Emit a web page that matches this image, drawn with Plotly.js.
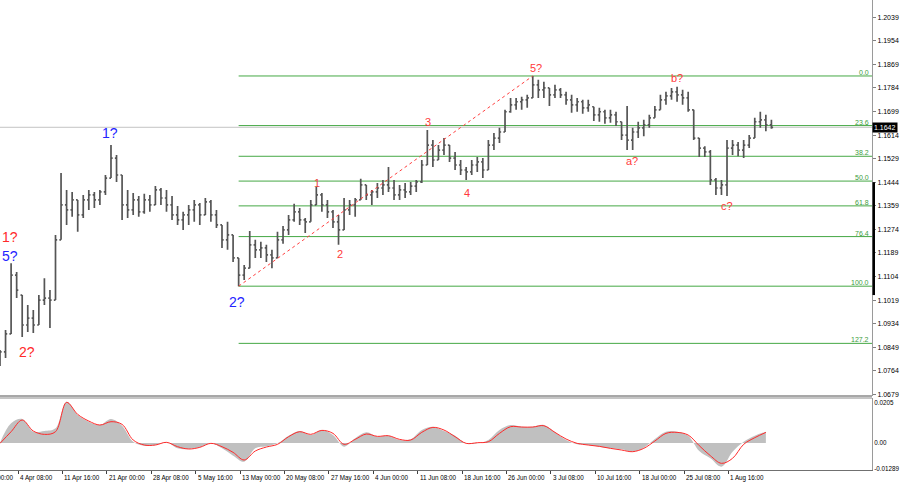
<!DOCTYPE html>
<html><head><meta charset="utf-8">
<script src="https://cdn.plot.ly/plotly-3.0.1.min.js"></script>
<style>html,body{margin:0;padding:0;background:#fff;}#chart{width:900px;height:485px;}</style>
</head><body><div id="chart"></div>
<script>
// ---- price bars (each drawn bar groups 4 H4 bars) ----
const barStep = 4;
const barOpen = [1.0796,1.0832,1.0897,1.1109,1.1037,1.0929,1.0954,1.0929,1.1019,1.1026,
1.1019,1.1236,1.1362,1.1344,1.1380,1.1326,1.1380,1.1398,1.1380,1.1409,
1.1459,1.1531,1.1470,1.1362,1.1344,1.1380,1.1337,1.1380,1.1362,1.1416,
1.1387,1.1362,1.1326,1.1308,1.1326,1.1344,1.1362,1.1326,1.1373,1.1326,
1.1290,1.1236,1.1254,1.1171,1.1109,1.1134,1.1218,1.1200,1.1207,1.1182,
1.1171,1.1236,1.1272,1.1308,1.1337,1.1308,1.1301,1.1362,1.1398,1.1362,
1.1337,1.1301,1.1272,1.1344,1.1362,1.1380,1.1434,1.1398,1.1409,1.1423,
1.1434,1.1423,1.1398,1.1416,1.1409,1.1430,1.1445,1.1506,1.1578,1.1524,
1.1560,1.1578,1.1531,1.1506,1.1488,1.1481,1.1506,1.1517,1.1488,1.1578,
1.1603,1.1625,1.1698,1.1723,1.1734,1.1741,1.1748,1.1795,1.1777,1.1784,
1.1759,1.1777,1.1759,1.1741,1.1723,1.1734,1.1712,1.1716,1.1687,1.1698,
1.1676,1.1687,1.1662,1.1614,1.1596,1.1625,1.1640,1.1651,1.1676,1.1705,
1.1741,1.1755,1.1770,1.1759,1.1748,1.1705,1.1603,1.1567,1.1553,1.1452,
1.1423,1.1434,1.1567,1.1578,1.1560,1.1578,1.1603,1.1662,1.1669,1.1651];
const barHigh = [1.0839,1.0911,1.1152,1.1120,1.1037,1.1001,1.0983,1.1037,1.1098,1.1055,
1.1254,1.1477,1.1416,1.1409,1.1380,1.1398,1.1416,1.1409,1.1416,1.1470,
1.1578,1.1542,1.1470,1.1416,1.1405,1.1394,1.1402,1.1398,1.1430,1.1423,
1.1416,1.1394,1.1358,1.1337,1.1362,1.1380,1.1369,1.1387,1.1380,1.1344,
1.1290,1.1301,1.1254,1.1171,1.1145,1.1268,1.1236,1.1229,1.1218,1.1200,
1.1265,1.1286,1.1326,1.1366,1.1351,1.1315,1.1380,1.1427,1.1405,1.1380,
1.1344,1.1326,1.1387,1.1380,1.1387,1.1456,1.1434,1.1416,1.1441,1.1452,
1.1499,1.1452,1.1434,1.1441,1.1445,1.1452,1.1524,1.1632,1.1596,1.1578,
1.1603,1.1578,1.1553,1.1524,1.1499,1.1524,1.1535,1.1531,1.1596,1.1621,
1.1640,1.1705,1.1748,1.1748,1.1752,1.1759,1.1827,1.1813,1.1806,1.1784,
1.1795,1.1784,1.1770,1.1759,1.1748,1.1741,1.1741,1.1716,1.1712,1.1705,
1.1705,1.1698,1.1662,1.1719,1.1640,1.1662,1.1669,1.1687,1.1719,1.1759,
1.1770,1.1784,1.1788,1.1777,1.1770,1.1705,1.1603,1.1574,1.1560,1.1459,
1.1452,1.1596,1.1596,1.1589,1.1596,1.1614,1.1676,1.1698,1.1687,1.1669];
const barLow = [1.0781,1.0810,1.0897,1.1026,1.0886,1.0904,1.0900,1.0929,1.1001,1.0918,
1.1019,1.1236,1.1290,1.1319,1.1265,1.1315,1.1344,1.1351,1.1362,1.1398,
1.1459,1.1445,1.1308,1.1315,1.1326,1.1319,1.1330,1.1337,1.1362,1.1362,
1.1337,1.1308,1.1290,1.1272,1.1290,1.1301,1.1290,1.1326,1.1301,1.1279,
1.1207,1.1200,1.1156,1.1069,1.1091,1.1134,1.1171,1.1171,1.1156,1.1134,
1.1171,1.1222,1.1254,1.1301,1.1290,1.1261,1.1301,1.1362,1.1337,1.1315,
1.1279,1.1218,1.1272,1.1326,1.1319,1.1380,1.1380,1.1362,1.1387,1.1398,
1.1409,1.1380,1.1380,1.1387,1.1398,1.1409,1.1441,1.1506,1.1499,1.1524,
1.1542,1.1517,1.1488,1.1470,1.1452,1.1470,1.1481,1.1459,1.1488,1.1560,
1.1585,1.1625,1.1694,1.1705,1.1705,1.1712,1.1748,1.1748,1.1748,1.1719,
1.1748,1.1748,1.1723,1.1694,1.1698,1.1691,1.1698,1.1665,1.1662,1.1655,
1.1658,1.1647,1.1596,1.1560,1.1560,1.1603,1.1610,1.1640,1.1676,1.1705,
1.1723,1.1741,1.1734,1.1723,1.1698,1.1596,1.1535,1.1535,1.1434,1.1398,
1.1398,1.1394,1.1542,1.1538,1.1531,1.1567,1.1603,1.1640,1.1628,1.1637];
const barClose = [1.0832,1.0897,1.1109,1.1055,1.0929,1.0954,1.0929,1.1019,1.1026,1.1019,
1.1236,1.1362,1.1344,1.1380,1.1326,1.1380,1.1398,1.1380,1.1409,1.1459,
1.1531,1.1470,1.1362,1.1344,1.1380,1.1337,1.1380,1.1362,1.1416,1.1387,
1.1362,1.1326,1.1308,1.1326,1.1344,1.1362,1.1326,1.1373,1.1326,1.1290,
1.1236,1.1254,1.1171,1.1109,1.1134,1.1218,1.1200,1.1207,1.1182,1.1171,
1.1236,1.1272,1.1308,1.1337,1.1308,1.1301,1.1362,1.1398,1.1362,1.1337,
1.1301,1.1272,1.1344,1.1362,1.1380,1.1434,1.1398,1.1409,1.1423,1.1434,
1.1423,1.1398,1.1416,1.1409,1.1430,1.1445,1.1506,1.1578,1.1524,1.1560,
1.1578,1.1531,1.1506,1.1488,1.1481,1.1506,1.1517,1.1488,1.1578,1.1603,
1.1625,1.1698,1.1723,1.1734,1.1741,1.1748,1.1795,1.1777,1.1784,1.1759,
1.1777,1.1759,1.1741,1.1723,1.1734,1.1712,1.1723,1.1687,1.1698,1.1676,
1.1687,1.1662,1.1614,1.1596,1.1625,1.1640,1.1651,1.1676,1.1705,1.1741,
1.1755,1.1770,1.1759,1.1748,1.1705,1.1603,1.1567,1.1553,1.1452,1.1423,
1.1434,1.1567,1.1578,1.1560,1.1578,1.1603,1.1662,1.1669,1.1651,1.1642];

// ---- MACD (sampled every 8 H4 bars) ----
const macdStep = 8;
const macdMain = [0.00017,0.00991,0.01209,0.00571,0.00605,0.00739,0.02082,0.01411,0.01075,0.00907,
0.01209,0.00873,0.00067,-0.00134,-0.00101,0.00034,-0.00269,-0.00302,-0.00218,-0.00017,
-0.00269,-0.00638,-0.00940,-0.00269,-0.00168,-0.00017,0.00369,0.00605,0.00403,0.00655,
0.00403,-0.00185,0.00235,0.00537,0.00319,0.00369,0.00151,0.00185,0.00655,0.00823,
0.00605,0.00369,-0.00017,-0.00017,0.00151,0.00655,0.00907,0.00823,0.00823,0.00907,
0.00537,0.00151,-0.00067,-0.00101,-0.00185,-0.00269,-0.00319,-0.00437,-0.00235,0.00202,
0.00571,0.00571,0.00369,-0.00403,-0.00772,-0.01192,-0.00437,0.00067,0.00369,0.00571];
const macdSignal = [-0.00017,0.00571,0.01159,0.00605,0.00437,0.00571,0.02049,0.01444,0.01108,0.00907,
0.01075,0.00940,0.00151,-0.00101,-0.00101,0.00034,-0.00185,-0.00302,-0.00218,-0.00017,
-0.00185,-0.00470,-0.00856,-0.00403,-0.00202,-0.00067,0.00319,0.00571,0.00437,0.00638,
0.00487,-0.00067,0.00185,0.00453,0.00336,0.00369,0.00185,0.00151,0.00537,0.00789,
0.00655,0.00319,-0.00017,0.00017,0.00067,0.00487,0.00823,0.00806,0.00806,0.00873,
0.00537,0.00202,-0.00017,-0.00101,-0.00168,-0.00269,-0.00353,-0.00437,-0.00269,0.00101,
0.00487,0.00537,0.00403,-0.00134,-0.00638,-0.01024,-0.00772,-0.00067,0.00269,0.00537];

// ---- axes / labels ----
const timeLabels = ["28 Mar 00:00","4 Apr 08:00","11 Apr 16:00","21 Apr 00:00","28 Apr 08:00","5 May 16:00",
"13 May 00:00","20 May 08:00","27 May 16:00","4 Jun 00:00","11 Jun 08:00","18 Jun 16:00","26 Jun 00:00",
"3 Jul 08:00","10 Jul 16:00","18 Jul 00:00","25 Jul 08:00","1 Aug 16:00"];
const timeLabelFirstBar = -19, timeLabelEvery = 32;
const priceTicks = [1.2039,1.1954,1.1869,1.1784,1.1699,1.1614,1.1529,1.1444,1.1359,1.1274,1.1189,1.1104,1.1019,1.0934,1.0849,1.0764,1.0679];
const macdTicks = [0.0205,0,-0.01289];
const macdTickText = ["0.0205","0.00","-0.01289"];
const fibLowBar = 43, fibHighBar = 96;
const fibRatios = [0,0.236,0.382,0.5,0.618,0.764,1.0,1.272];
const fibLabels = ["0.0","23.6","38.2","50.0","61.8","76.4","100.0","127.2"];
const lastPrice = 1.1642;
const markerTop = 1.1444, markerBottom = 1.1037;
const waves = [
 {t:"1?", x:7.2, y:1.1247, c:"#ff2a2a", s:14},
 {t:"5?", x:7.2, y:1.1178, c:"#2424ff", s:14},
 {t:"2?", x:19.5, y:1.0832, c:"#ff2a2a", s:14},
 {t:"1?", x:79, y:1.1621, c:"#2424ff", s:14},
 {t:"2?", x:171, y:1.1012, c:"#2424ff", s:14},
 {t:"1", x:228.5, y:1.1441, c:"#e8453a", s:11},
 {t:"2", x:245, y:1.1185, c:"#ff3a3a", s:11},
 {t:"3", x:308.5, y:1.1662, c:"#ff3a3a", s:11},
 {t:"4", x:336.6, y:1.1405, c:"#ff3a3a", s:11},
 {t:"5?", x:386, y:1.1856, c:"#ff3a3a", s:11},
 {t:"a?", x:455.5, y:1.1520, c:"#ff3a3a", s:11},
 {t:"b?", x:488, y:1.1820, c:"#ff3a3a", s:11},
 {t:"c?", x:524, y:1.1358, c:"#ff3a3a", s:11}
];

const xMax = 628.5;
const barX = barOpen.map((_, k) => k * barStep);
const macdX = macdMain.map((_, i) => i * macdStep);
const tickX = timeLabels.map((_, i) => timeLabelFirstBar + i * timeLabelEvery);
const fibHigh = barHigh[fibHighBar], fibLow = barLow[fibLowBar];
const fibLevels = fibRatios.map(r => fibHigh - r * (fibHigh - fibLow));
const FONT = "Liberation Sans, Arial, sans-serif";
const YFONT = {family:FONT, size:7, color:"#000"};
const XFONT = {family:FONT, size:6.3, color:"#000"};
const mainBottom = 74 / 470, macdTop = 72 / 470;

const traces = [
 {type:"ohlc", x:barX, open:barOpen, high:barHigh, low:barLow, close:barClose,
  increasing:{line:{color:"#555555", width:1.7}}, decreasing:{line:{color:"#555555", width:1.7}},
  tickwidth:0.3, xaxis:"x", yaxis:"y", hoverinfo:"skip"},
 {type:"scatter", mode:"lines", x:macdX, y:macdMain, fill:"tozeroy", fillcolor:"#c0c0c0",
  line:{width:0, color:"#c0c0c0", shape:"spline"}, xaxis:"x2", yaxis:"y2", hoverinfo:"skip"},
 {type:"scatter", mode:"lines", x:macdX, y:macdSignal, line:{width:1, color:"#ff2a2a", shape:"spline"},
  xaxis:"x2", yaxis:"y2", hoverinfo:"skip"}
];

const shapes = [];
shapes.push({type:"line", xref:"paper", yref:"y", x0:0, x1:1, y0:lastPrice, y1:lastPrice, line:{color:"#c4c4c4", width:1}, layer:"below"});
fibLevels.forEach(v => shapes.push({type:"line", xref:"x", yref:"y", x0:fibLowBar*barStep, x1:xMax, y0:v, y1:v, line:{color:"#45a845", width:1}, layer:"below"}));
shapes.push({type:"line", xref:"x", yref:"y", x0:fibLowBar*barStep, x1:fibHighBar*barStep, y0:fibLow, y1:fibHigh, line:{color:"#ff4040", width:1, dash:"dot"}});
shapes.push({type:"line", xref:"paper", yref:"y", x0:1.002, x1:1.002, y0:markerTop, y1:markerBottom, line:{color:"#000", width:2.5}});
shapes.push({type:"line", xref:"paper", yref:"paper", x0:0, x1:1, y0:mainBottom, y1:mainBottom, line:{color:"#505050", width:1}});
shapes.push({type:"line", xref:"paper", yref:"paper", x0:0, x1:1, y0:macdTop, y1:macdTop, line:{color:"#8a8a8a", width:1}});

const annotations = [];
waves.forEach(w => annotations.push({xref:"x", yref:"y", x:w.x, y:w.y, text:w.t, showarrow:false,
  xanchor:"center", yanchor:"middle", font:{family:FONT, size:w.s, color:w.c}}));
fibLevels.forEach((v, i) => annotations.push({xref:"paper", yref:"y", x:1, y:v, text:fibLabels[i], showarrow:false,
  xanchor:"right", yanchor:"bottom", xshift:-1, yshift:-2, font:{family:FONT, size:7, color:"#3c9c3c"}}));
annotations.push({xref:"paper", yref:"y", x:1, y:lastPrice, text:lastPrice.toFixed(4), showarrow:false,
  xanchor:"left", yanchor:"middle", xshift:0, bgcolor:"#000", borderpad:1, font:{family:FONT, size:7, color:"#fff"}});
// time labels: left-aligned just right of each tick, below the MACD panel
tickX.forEach((tx, i) => annotations.push({xref:"paper", yref:"paper", x:tx / xMax, y:0, text:timeLabels[i], showarrow:false,
  xanchor:"left", yanchor:"top", xshift:0, yshift:-2, font:XFONT}));

const layout = {
 width:900, height:485, margin:{l:0, r:28, t:0, b:15},
 paper_bgcolor:"#fff", plot_bgcolor:"#fff", showlegend:false,
 font:{family:FONT, size:7, color:"#000"},
 xaxis:{domain:[0,1], range:[0,xMax], anchor:"y", showticklabels:false, ticks:"", showgrid:false, zeroline:false,
   rangeslider:{visible:false}, showline:false},
 yaxis:{domain:[mainBottom,1], range:[1.0673,1.2101], side:"right", anchor:"x", tickvals:priceTicks,
   ticktext:priceTicks.map(v => v.toFixed(4)), ticks:"outside", ticklen:3, tickcolor:"#808080",
   showline:true, linecolor:"#9a9a9a", linewidth:1, showgrid:false, zeroline:false, tickfont:YFONT},
 xaxis2:{domain:[0,1], range:[0,xMax], anchor:"y2", tickvals:tickX, ticktext:tickX.map(() => ""), ticks:"outside", ticklen:3,
   tickcolor:"#404040", showline:true, linecolor:"#707070", linewidth:1,
   showgrid:false, zeroline:false, tickfont:XFONT},
 yaxis2:{domain:[0,macdTop], range:[-0.0136,0.0227], side:"right", anchor:"x2", tickvals:macdTicks, ticktext:macdTickText,
   ticks:"", showline:true, linecolor:"#9a9a9a", linewidth:1, showgrid:false, zeroline:false, tickfont:XFONT},
 shapes:shapes, annotations:annotations
};
Plotly.newPlot("chart", traces, layout, {staticPlot:true, displayModeBar:false});
</script></body></html>
